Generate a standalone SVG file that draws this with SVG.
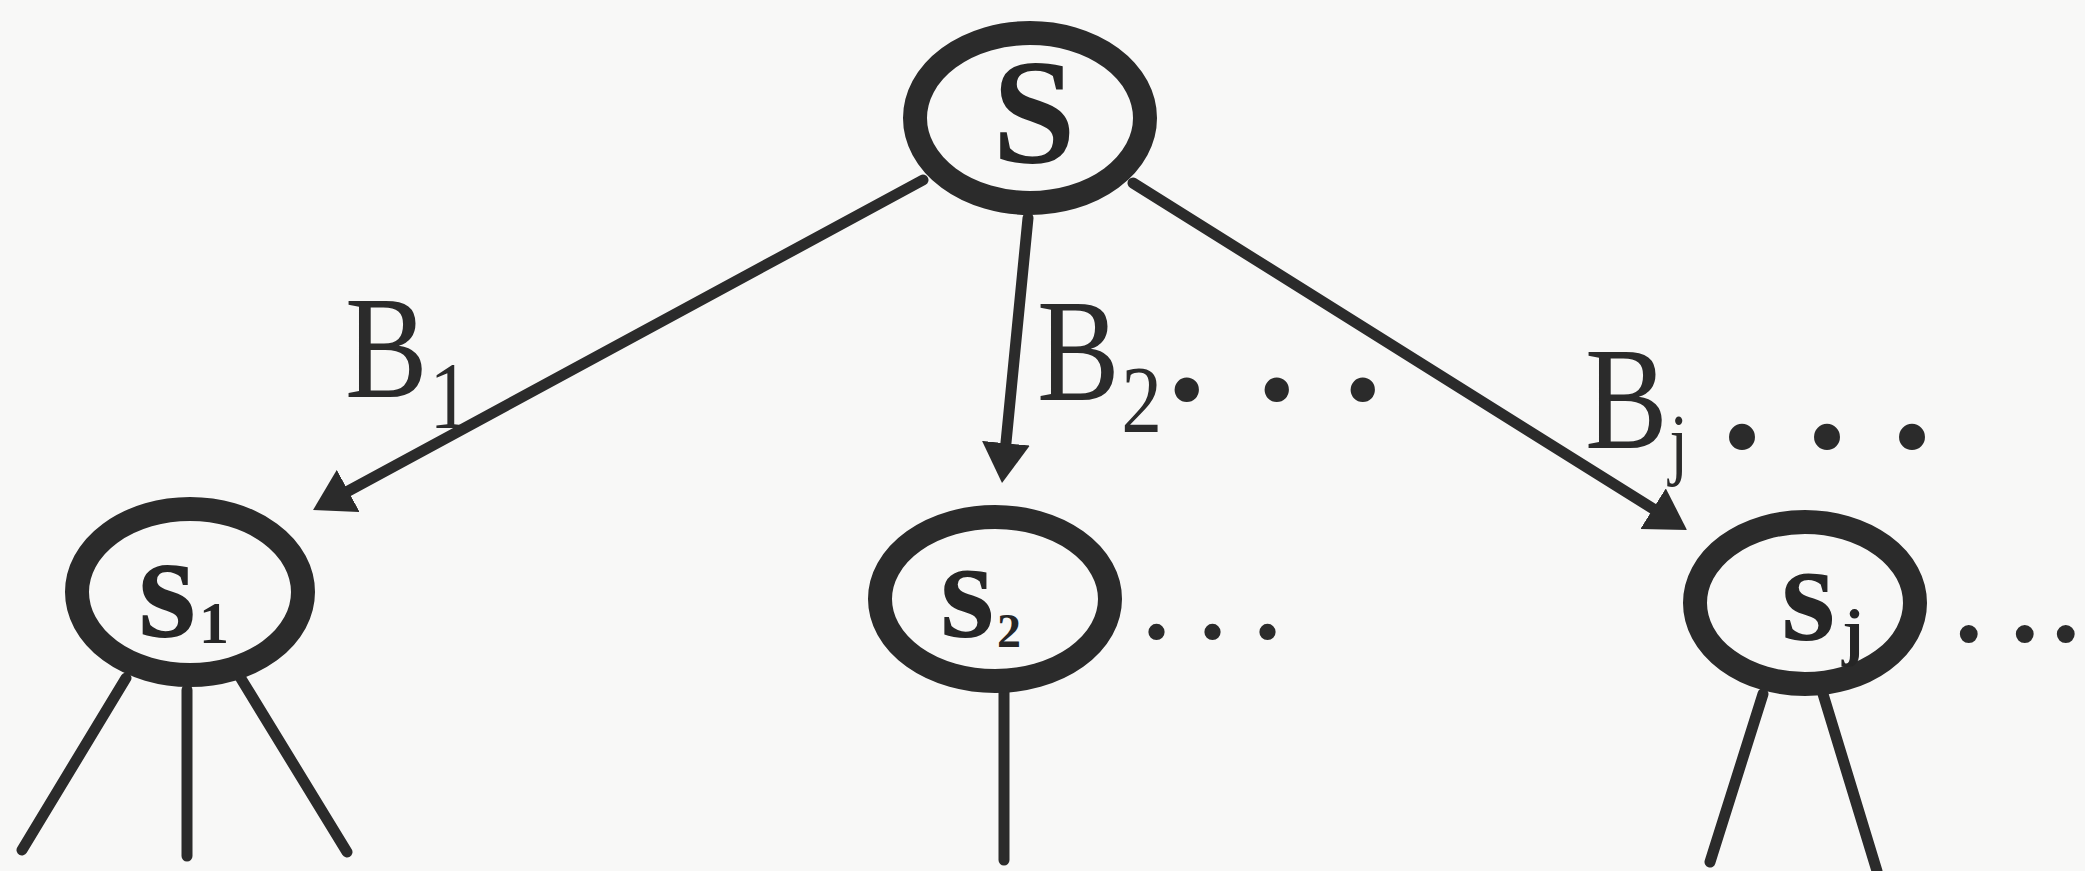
<svg xmlns="http://www.w3.org/2000/svg" width="2085" height="871" viewBox="0 0 2085 871">
<style>
.bg{fill:#f8f8f7}
.ring{fill:#f8f8f7;stroke:#2b2b2b;stroke-width:24}
.edge{fill:none;stroke:#2b2b2b;stroke-width:11;stroke-linecap:round}
.arr{marker-end:url(#ah)}
.nm{font-family:"Liberation Serif","Times New Roman",serif;font-weight:bold;fill:#262626}
.lbl{font-family:"Liberation Serif","Times New Roman",serif;fill:#2b2b2b}
.dots{font-family:"Liberation Serif","Times New Roman",serif;font-weight:bold;fill:#2b2b2b}
</style>
<defs>
<marker id="ah" markerUnits="userSpaceOnUse" viewBox="0 0 40 48" markerWidth="40" markerHeight="48" refX="28" refY="24" orient="auto">
<path d="M0,0 L40,24 L0,48 z" fill="#2b2b2b"/>
</marker>
</defs>
<rect class="bg" x="0" y="0" width="2085" height="871"/>
<g id="connectors">
<line class="edge arr" x1="923" y1="180" x2="323.6" y2="504.3"/>
<line class="edge arr" x1="1028" y1="218" x2="1003.2" y2="471.1"/>
<line class="edge arr" x1="1133" y1="183" x2="1676.8" y2="523.6"/>
<line class="edge" x1="126" y1="678" x2="22" y2="850"/>
<line class="edge" x1="187" y1="690" x2="187" y2="856"/>
<line class="edge" x1="240" y1="677" x2="347" y2="852"/>
<line class="edge" x1="1004" y1="690" x2="1004" y2="860"/>
<line class="edge" x1="1763" y1="694" x2="1710" y2="862"/>
<line class="edge" x1="1823" y1="694" x2="1877" y2="871"/>
</g>
<g id="labels">
<text class="lbl" transform="translate(345,397) scale(0.85,1)" font-size="146">B<tspan x="99" y="31" font-size="96">1</tspan></text>
<text class="lbl" transform="translate(1037,400) scale(0.85,1)" font-size="146">B<tspan x="99" y="32" font-size="96">2</tspan></text>
<text class="dots" font-size="150" x="1168 1258 1344" y="400">...</text>
<text class="lbl" transform="translate(1585,448) scale(0.85,1)" font-size="146">B<tspan x="99" y="22" font-size="80">j</tspan></text>
<text class="dots" font-size="160" x="1722 1807 1892" y="448">...</text>
</g>
<g id="node-S">
<ellipse class="ring" cx="1030" cy="118" rx="115" ry="85"/>
<text class="nm" x="1034" y="163" font-size="150" text-anchor="middle">S</text>
</g>
<g id="node-s1">
<ellipse class="ring" cx="190" cy="592" rx="113" ry="83"/>
<text class="nm" x="138" y="637" font-size="150">s<tspan x="199" y="643" font-size="60">1</tspan></text>
</g>
<g id="node-s2">
<ellipse class="ring" cx="995" cy="599" rx="115" ry="82"/>
<text class="nm" x="940" y="637" font-size="140">s<tspan x="997" y="647" font-size="48">2</tspan></text>
<text class="dots" font-size="100" x="1144 1200 1255" y="639">...</text>
</g>
<g id="node-sj">
<ellipse class="ring" cx="1805" cy="603" rx="110" ry="81"/>
<text class="nm" x="1781" y="640" font-size="140">s<tspan x="1842" y="653" font-size="64">j</tspan></text>
<text class="dots" font-size="110" x="1955 2011 2052" y="641">...</text>
</g>
</svg>
